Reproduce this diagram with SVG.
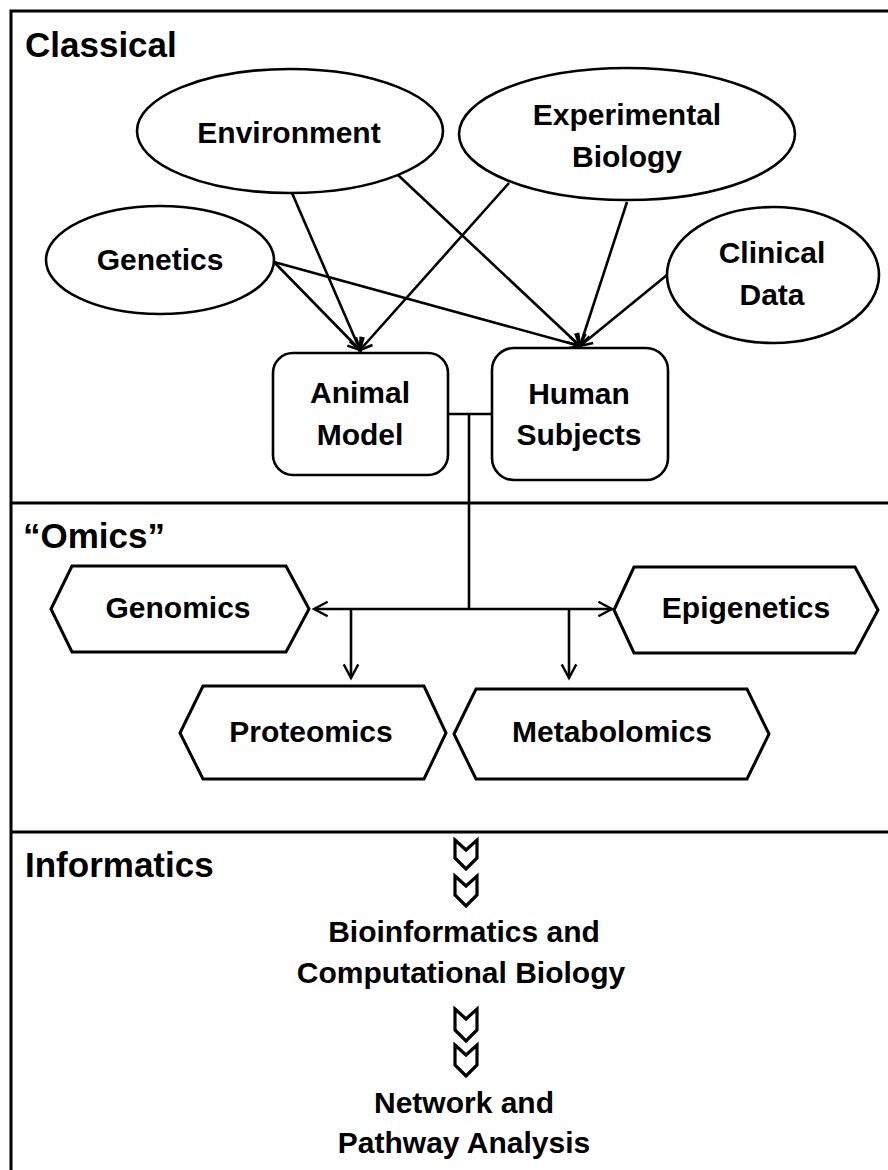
<svg xmlns="http://www.w3.org/2000/svg" width="888" height="1170" viewBox="0 0 888 1170">
<style>
  .frame{stroke:#000;stroke-width:3;fill:none}
  .shape{fill:#fff;stroke:#000;stroke-width:2.6}
  .hex{fill:#fff;stroke:#000;stroke-width:3;stroke-linejoin:miter}
  .conn{stroke:#000;stroke-width:2.6;fill:none}
  .lbl{font-family:"Liberation Sans",Arial,sans-serif;font-weight:bold;font-size:30px;fill:#000;text-anchor:middle}
  .hdr{font-family:"Liberation Sans",Arial,sans-serif;font-weight:bold;font-size:35px;fill:#000}
  .chev{fill:#fff;stroke:#000;stroke-width:3.2;stroke-linejoin:miter}
</style>
<defs>
  <marker id="arr" markerUnits="userSpaceOnUse" markerWidth="20" markerHeight="20" refX="0" refY="0" viewBox="-16 -10 20 20" orient="auto-start-reverse" overflow="visible">
    <path d="M-12,-6 L0,0 L-12,6" fill="none" stroke="#000" stroke-width="2.6"/>
  </marker>
  <marker id="arr2" markerUnits="userSpaceOnUse" markerWidth="20" markerHeight="20" refX="0" refY="0" viewBox="-18 -10 22 20" orient="auto-start-reverse" overflow="visible">
    <path d="M-15,-8 L0,0 L-15,8" fill="none" stroke="#000" stroke-width="2.6"/>
  </marker>
</defs>
<rect width="888" height="1170" fill="#fff"/>
<g id="frame">
  <path class="frame" d="M11,1172 L11,11 L890,11"/>
  <line class="frame" x1="11" y1="503" x2="890" y2="503"/>
  <line class="frame" x1="11" y1="832" x2="890" y2="832"/>
</g>
<g id="headers">
  <text class="hdr" x="25" y="57">Classical</text>
  <text class="hdr" x="23" y="548">“Omics”</text>
  <text class="hdr" x="25" y="877">Informatics</text>
</g>
<g id="connectors">
  <line class="conn" x1="292" y1="193" x2="360" y2="350" marker-end="url(#arr)"/>
  <line class="conn" x1="274" y1="262" x2="360" y2="350" marker-end="url(#arr)"/>
  <line class="conn" x1="509" y1="183" x2="360" y2="350" marker-end="url(#arr)"/>
  <line class="conn" x1="398" y1="175" x2="580" y2="346" marker-end="url(#arr)"/>
  <line class="conn" x1="274" y1="262" x2="580" y2="346" marker-end="url(#arr)"/>
  <line class="conn" x1="627" y1="202" x2="580" y2="346" marker-end="url(#arr)"/>
  <line class="conn" x1="667" y1="275" x2="580" y2="346" marker-end="url(#arr)"/>
  <line class="conn" x1="448" y1="414" x2="492" y2="414"/>
  <line class="conn" x1="469" y1="414" x2="469" y2="609"/>
  <line class="conn" x1="314" y1="609" x2="612" y2="609" marker-start="url(#arr2)" marker-end="url(#arr2)"/>
  <line class="conn" x1="351" y1="609" x2="351" y2="678" marker-end="url(#arr2)"/>
  <line class="conn" x1="569" y1="609" x2="569" y2="678" marker-end="url(#arr2)"/>
</g>
<g id="environment">
  <ellipse class="shape" cx="290" cy="131" rx="153" ry="62"/>
  <text class="lbl" x="289" y="143">Environment</text>
</g>
<g id="experimental-biology">
  <ellipse class="shape" cx="627" cy="134" rx="168" ry="66"/>
  <text class="lbl" x="627" y="125">Experimental</text>
  <text class="lbl" x="627" y="167">Biology</text>
</g>
<g id="genetics">
  <ellipse class="shape" cx="160" cy="260" rx="114" ry="54"/>
  <text class="lbl" x="160" y="270">Genetics</text>
</g>
<g id="clinical-data">
  <ellipse class="shape" cx="773" cy="275" rx="106" ry="68"/>
  <text class="lbl" x="772" y="263">Clinical</text>
  <text class="lbl" x="772" y="305">Data</text>
</g>
<g id="animal-model">
  <rect class="shape" x="273" y="353" width="175" height="122" rx="20"/>
  <text class="lbl" x="360" y="403">Animal</text>
  <text class="lbl" x="360" y="445">Model</text>
</g>
<g id="human-subjects">
  <rect class="shape" x="492" y="348" width="176" height="132" rx="22"/>
  <text class="lbl" x="579" y="404">Human</text>
  <text class="lbl" x="579" y="445">Subjects</text>
</g>
<g id="genomics">
  <polygon class="hex" points="51,609 72,566 286,566 309,609 286,652 72,652"/>
  <text class="lbl" x="178" y="618">Genomics</text>
</g>
<g id="epigenetics">
  <polygon class="hex" points="614,610 634,567 855,567 878,610 855,653 634,653"/>
  <text class="lbl" x="746" y="618">Epigenetics</text>
</g>
<g id="proteomics">
  <polygon class="hex" points="180,733 203,686 424,686 446,733 424,779 203,779"/>
  <text class="lbl" x="311" y="742">Proteomics</text>
</g>
<g id="metabolomics">
  <polygon class="hex" points="454,734 476,689 747,689 769,734 747,779 476,779"/>
  <text class="lbl" x="612" y="742">Metabolomics</text>
</g>
<g id="chevrons">
  <polygon class="chev" points="455,840 466,850 477,840 477,858 466,869 455,858"/>
  <polygon class="chev" points="455,876 466,886 477,876 477,895 466,906 455,895"/>
  <polygon class="chev" points="455,1009 466,1019 477,1009 477,1030 466,1041 455,1030"/>
  <polygon class="chev" points="455,1045 466,1055 477,1045 477,1065 466,1076 455,1065"/>
</g>
<g id="bioinformatics">
  <text class="lbl" x="464" y="942">Bioinformatics and</text>
  <text class="lbl" x="461" y="983">Computational Biology</text>
</g>
<g id="network-pathway">
  <text class="lbl" x="464" y="1113">Network and</text>
  <text class="lbl" x="464" y="1153">Pathway Analysis</text>
</g>
</svg>
